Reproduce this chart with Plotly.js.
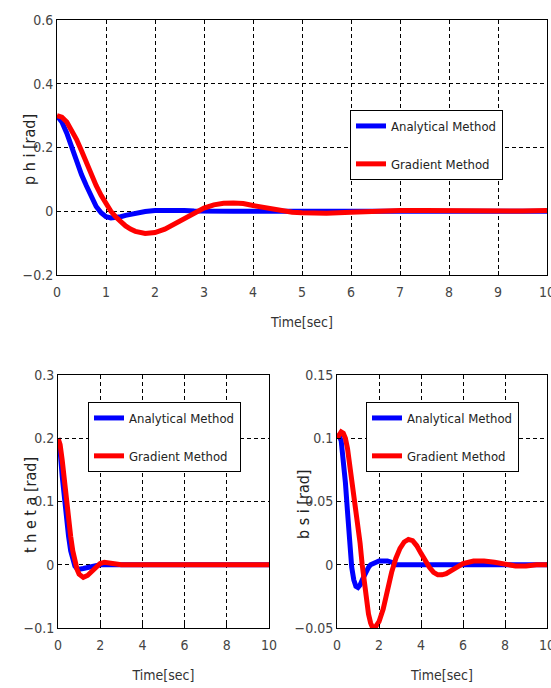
<!DOCTYPE html>
<html><head><meta charset="utf-8">
<script src="https://cdn.plot.ly/plotly-3.0.1.min.js"></script>
<style>html,body{margin:0;padding:0;background:#fff}#c{width:551px;height:688px}</style>
</head><body><div id="c"></div>
<script>
// Phi (top panel)
const tPhi = [0,0.1,0.2,0.3,0.4,0.5,0.6,0.7,0.8,0.9,1.0,1.1,1.2,1.3,1.4,1.5,1.6,1.8,2.0,2.2,2.4,2.6,2.8,3.0,3.2,3.4,3.6,3.8,4.0,4.2,4.4,4.6,4.8,5.0,5.5,6.0,6.5,7.0,7.5,8.0,8.5,9.0,9.5,10];
const phiAnalytical = [0.3,0.28,0.245,0.2,0.16,0.115,0.08,0.045,0.015,-0.005,-0.017,-0.021,-0.02,-0.017,-0.013,-0.009,-0.006,-0.001,0.002,0.003,0.003,0.002,0.001,0.0,0.0,0.0,0.0,0.0,0.001,0.001,0.0,0.0,0.0,0.0,0.0,0.0,0.001,0.0,0.0,0.001,0.0,0.001,0.0,0.0];
const phiGradient = [0.3,0.295,0.28,0.255,0.225,0.19,0.15,0.115,0.08,0.05,0.022,0.0,-0.018,-0.033,-0.046,-0.056,-0.063,-0.07,-0.067,-0.056,-0.04,-0.022,-0.005,0.01,0.02,0.025,0.026,0.024,0.018,0.012,0.006,0.001,-0.003,-0.005,-0.006,-0.003,0.0,0.002,0.002,0.001,0.0,0.0,0.001,0.002];
// Theta (bottom-left panel)
const tTheta = [0,0.1,0.2,0.3,0.4,0.5,0.6,0.7,0.8,0.9,1.0,1.2,1.4,1.6,1.8,2.0,2.2,2.4,2.6,2.8,3.0,4.0,5.0,6.0,7.0,8.0,9.0,10];
const thetaAnalytical = [0.2,0.18,0.14,0.105,0.075,0.045,0.022,0.007,-0.002,-0.006,-0.007,-0.006,-0.004,-0.002,-0.001,0,0,0,0,0,0,0,0,0,0,0,0,0];
const thetaGradient = [0.2,0.19,0.165,0.13,0.1,0.07,0.045,0.022,0.005,-0.007,-0.015,-0.02,-0.017,-0.01,-0.003,0.002,0.004,0.003,0.001,0,0,0,0,0,0,0,0,0];
// Psi (bottom-right panel)
const tPsi = [0,0.1,0.2,0.3,0.4,0.5,0.6,0.7,0.8,0.9,1.0,1.1,1.2,1.3,1.4,1.5,1.6,1.7,1.8,2.0,2.2,2.4,2.6,2.8,3.0,3.2,3.4,3.6,3.8,4.0,4.2,4.4,4.6,4.8,5.0,5.2,5.5,6.0,6.5,7.0,7.5,8.0,8.5,9.0,9.5,10];
const psiAnalytical = [0.1,0.102,0.098,0.085,0.065,0.042,0.018,-0.002,-0.012,-0.017,-0.018,-0.016,-0.012,-0.008,-0.005,-0.002,0.0,0.001,0.002,0.003,0.003,0.003,0.002,0.0,0.0,0.0,0.0,0.0,0.0,0.0,0.0,0.0,0.0,0.0,0.0,0.0,0.0,0.0,0.0,0.0,0.0,0.0,0.0,0.0,0.0,0.0];
const psiGradient = [0.1,0.103,0.105,0.104,0.1,0.092,0.08,0.068,0.058,0.048,0.033,0.017,0.0,-0.015,-0.028,-0.039,-0.046,-0.05,-0.05,-0.045,-0.035,-0.02,-0.006,0.005,0.013,0.018,0.02,0.019,0.015,0.009,0.003,-0.002,-0.006,-0.008,-0.008,-0.007,-0.004,0.001,0.003,0.003,0.002,0.0,-0.001,-0.001,0.0,0.0];

const seriesNames = ["Analytical Method","Gradient Method"];
const yTitles = ["p h i [rad]","t h e t a [rad]","b s i [rad]"];
const colors = ["#0000ff","#ff0000"];
const FONT = "DejaVu Sans Condensed, Roboto Condensed, Liberation Sans Narrow, sans-serif";

function mk(x, y, i, xa, ya, lg) {
  return {x:x, y:y, type:"scatter", mode:"lines", name:seriesNames[i],
    xaxis:xa, yaxis:ya, legend:lg, legendgroup:lg+i,
    line:{color:colors[i], width:5}};
}
const data = [
  mk(tPhi, phiAnalytical, 0, "x", "y", "legend"),
  mk(tPhi, phiGradient, 1, "x", "y", "legend"),
  mk(tTheta, thetaAnalytical, 0, "x2", "y2", "legend2"),
  mk(tTheta, thetaGradient, 1, "x2", "y2", "legend2"),
  mk(tPsi, psiAnalytical, 0, "x3", "y3", "legend3"),
  mk(tPsi, psiGradient, 1, "x3", "y3", "legend3")
];

const W = 551, H = 688;
function xd(a,b){return [a/W, b/W];}
function yd(top,bot){return [1-bot/H, 1-top/H];}
const axBase = {showline:true, mirror:true, linecolor:"#000", linewidth:1,
  showgrid:true, gridcolor:"#000", gridwidth:1, griddash:"4px,3px",
  zeroline:false, ticks:"inside", ticklen:4, tickcolor:"#000", ticklabeloverflow:"allow",
  tickfont:{family:FONT, size:14, color:"#444"}, automargin:false};
function xax(dom, dtick, anchor){
  return Object.assign({}, axBase, {domain:dom, range:[0,10], dtick:dtick, tick0:0, anchor:anchor,
    ticklabelstandoff:4,
    title:{text:"Time[sec]", font:{family:FONT, size:14, color:"#333"}, standoff:18}});
}
function yax(dom, range, dtick, anchor){
  return Object.assign({}, axBase, {domain:dom, range:range, dtick:dtick, tick0:0, anchor:anchor});
}
function lg(x, ytop){
  return {x:x, y:ytop, xanchor:"left", yanchor:"top", xref:"paper", yref:"paper",
    bordercolor:"#000", borderwidth:1, bgcolor:"#fff",
    font:{family:FONT, size:13, color:"#222"}, traceorder:"grouped", tracegroupgap:18,
    itemwidth:30};
}
function ytitle(text, xpx, ycpx){
  return {text:text, textangle:-90, x:xpx/W, y:1-ycpx/H, xref:"paper", yref:"paper",
    showarrow:false, xanchor:"center", yanchor:"middle",
    font:{family:FONT, size:16, color:"#222"}};
}
const layout = {
  width:W, height:H, margin:{l:0,r:0,t:0,b:0}, paper_bgcolor:"#fff", plot_bgcolor:"#fff",
  showlegend:true,
  xaxis: xax(xd(57,547), 1, "y"),
  yaxis: yax(yd(20,275), [-0.2,0.6], 0.2, "x"),
  xaxis2: xax(xd(58,269), 2, "y2"),
  yaxis2: yax(yd(375,628), [-0.1,0.3], 0.1, "x2"),
  xaxis3: xax(xd(337,547), 2, "y3"),
  yaxis3: yax(yd(375,628), [-0.05,0.15], 0.05, "x3"),
  legend: lg(350/W, 1-110/H),
  legend2: lg(88/W, 1-402/H),
  legend3: lg(366/W, 1-402/H),
  annotations: [ytitle(yTitles[0], 30, 150), ytitle(yTitles[1], 30, 505), ytitle(yTitles[2], 303, 505)]
};
Plotly.newPlot("c", data, layout, {displayModeBar:false, staticPlot:true});
</script></body></html>
